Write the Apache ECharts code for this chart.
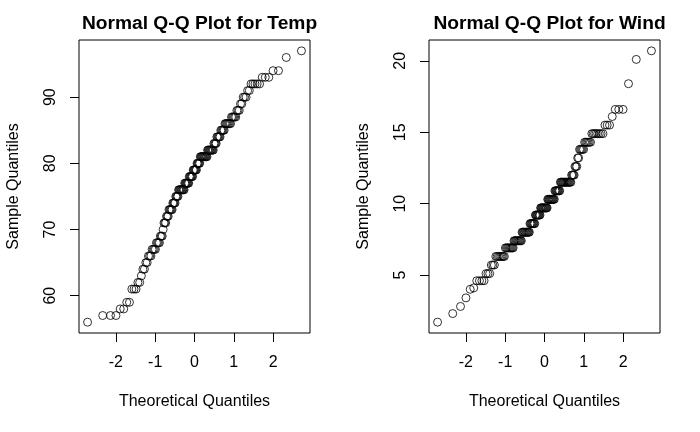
<!DOCTYPE html>
<html>
<head>
<meta charset="utf-8">
<script src="https://cdn.jsdelivr.net/npm/echarts@6/dist/echarts.min.js"></script>
<style>
html,body{margin:0;padding:0;background:#fff;}
#chart{width:700px;height:432px;}
</style>
</head>
<body>
<div id="chart"></div>
<script>
// airquality$Temp (153 observations)
var temp = [67,72,74,62,56,66,65,59,61,69,74,69,66,68,58,64,66,57,68,62,59,73,61,61,57,58,57,67,81,79,76,
  78,74,67,84,85,79,82,87,90,87,93,92,82,80,79,77,72,65,73,76,77,76,76,76,75,78,73,80,77,83,
  84,85,81,84,83,83,88,92,92,89,82,73,81,91,80,81,82,84,87,85,74,81,82,86,85,82,86,88,86,83,81,
  81,81,82,86,85,87,89,90,90,92,86,86,82,80,79,77,79,76,78,78,77,72,75,79,81,86,88,97,94,96,94,
  91,92,93,93,87,84,80,78,75,73,81,76,77,71,71,78,67,76,68,82,64,71,81,69,63,70,77,75,76,68];
// airquality$Wind (153 observations)
var wind = [7.4,8.0,12.6,11.5,14.3,14.9,8.6,13.8,20.1,8.6,6.9,9.7,9.2,10.9,13.2,11.5,12.0,18.4,11.5,9.7,9.7,16.6,9.7,12.0,16.6,14.9,8.0,12.0,14.9,5.7,7.4,
  8.6,9.7,16.1,9.2,8.6,14.3,9.7,6.9,13.8,11.5,10.9,9.2,8.0,13.8,11.5,14.9,20.7,9.2,11.5,10.3,6.3,1.7,4.6,6.3,8.0,8.0,10.3,11.5,14.9,8.0,
  4.1,9.2,9.2,10.9,4.6,10.9,5.1,6.3,5.7,7.4,8.6,14.3,14.9,14.9,14.3,6.9,10.3,6.3,5.1,11.5,6.9,9.7,11.5,8.6,8.0,8.6,12.0,7.4,7.4,7.4,9.2,
  6.9,13.8,7.4,6.9,7.4,4.6,4.0,10.3,8.0,8.6,11.5,11.5,11.5,9.7,11.5,10.3,6.3,7.4,10.9,10.3,15.5,14.3,12.6,9.7,3.4,8.0,5.7,9.7,2.3,6.3,6.3,
  6.9,5.1,2.8,4.6,7.4,15.5,10.9,10.3,10.9,9.7,14.9,15.5,6.3,10.9,11.5,6.9,13.8,10.3,10.3,8.0,12.6,9.2,10.3,10.3,16.6,6.9,13.2,14.3,8.0,11.5];
var xTicks = [-2,-1,0,1,2];
var tempTicks = [60,70,80,90];
var windTicks = [5,10,15,20];
var titles = ['Normal Q-Q Plot for Temp','Normal Q-Q Plot for Wind'];

// inverse standard normal CDF (Acklam)
function qnorm(p){
  var a=[-3.969683028665376e+01,2.209460984245205e+02,-2.759285104469687e+02,1.383577518672690e+02,-3.066479806614716e+01,2.506628277459239e+00];
  var b=[-5.447609879822406e+01,1.615858368580409e+02,-1.556989798598866e+02,6.680131188771972e+01,-1.328068155288572e+01];
  var c=[-7.784894002430293e-03,-3.223964580411365e-01,-2.400758277161838e+00,-2.549732539343734e+00,4.374664141464968e+00,2.938163982698783e+00];
  var d=[7.784695709041462e-03,3.224671290700398e-01,2.445134137142996e+00,3.754408661907416e+00];
  var pl=0.02425,q,r;
  if(p<pl){q=Math.sqrt(-2*Math.log(p));return (((((c[0]*q+c[1])*q+c[2])*q+c[3])*q+c[4])*q+c[5])/((((d[0]*q+d[1])*q+d[2])*q+d[3])*q+1);}
  if(p>1-pl){q=Math.sqrt(-2*Math.log(1-p));return -(((((c[0]*q+c[1])*q+c[2])*q+c[3])*q+c[4])*q+c[5])/((((d[0]*q+d[1])*q+d[2])*q+d[3])*q+1);}
  q=p-0.5;r=q*q;
  return (((((a[0]*r+a[1])*r+a[2])*r+a[3])*r+a[4])*r+a[5])*q/(((((b[0]*r+b[1])*r+b[2])*r+b[3])*r+b[4])*r+1);
}
// Q-Q pairs: sorted sample vs normal quantiles of ppoints(n)
function qq(v){
  var s=v.slice().sort(function(x,y){return x-y;});
  var n=s.length;
  return s.map(function(y,i){return [qnorm((i+1-0.5)/n), y];});
}
function lim(arr){
  var mn=Math.min.apply(null,arr), mx=Math.max.apply(null,arr), e=(mx-mn)*0.04;
  return [mn-e, mx+e];
}
var qqT = qq(temp), qqW = qq(wind);
var xl = lim(qqT.map(function(p){return p[0];}));
var yT = lim(temp), yW = lim(wind);

var FONT = 'Liberation Sans, Arial, sans-serif';
function xAxis(gi){
  return {gridIndex:gi,type:'value',min:xl[0],max:xl[1],position:'bottom',
    name:'Theoretical Quantiles',nameLocation:'middle',nameGap:61,
    nameTextStyle:{fontFamily:FONT,fontSize:16,color:'#000'},
    axisLine:{show:false,onZero:false},splitLine:{show:false},
    axisTick:{show:true,length:9,customValues:xTicks,lineStyle:{color:'#000',width:1}},
    axisLabel:{customValues:xTicks,margin:22,fontFamily:FONT,fontSize:16,color:'#000',formatter:function(v){return String(v);}}};
}
function yAxis(gi,l,ticks){
  return {gridIndex:gi,type:'value',min:l[0],max:l[1],position:'left',
    name:'Sample Quantiles',nameLocation:'middle',nameGap:57,
    nameTextStyle:{fontFamily:FONT,fontSize:16,color:'#000'},
    axisLine:{show:false,onZero:false},splitLine:{show:false},
    axisTick:{show:true,length:9,customValues:ticks,lineStyle:{color:'#000',width:1}},
    axisLabel:{customValues:ticks,rotate:90,margin:20,fontFamily:FONT,fontSize:16,color:'#000',formatter:function(v){return String(v);}}};
}
function series(gi,data){
  return {type:'scatter',xAxisIndex:gi,yAxisIndex:gi,data:data,symbol:'circle',symbolSize:8,
    itemStyle:{color:'rgba(0,0,0,0)',borderColor:'#000',borderWidth:1},
    emphasis:{disabled:true},silent:true};
}
var chart = echarts.init(document.getElementById('chart'),null,{renderer:'canvas'});
chart.setOption({
  animation:false,
  backgroundColor:'#fff',
  title:[
    {text:titles[0],left:194.5,top:9,textAlign:'center',textStyle:{fontFamily:FONT,fontSize:19.2,fontWeight:'bold',color:'#000'}},
    {text:titles[1],left:544.5,top:9,textAlign:'center',textStyle:{fontFamily:FONT,fontSize:19.2,fontWeight:'bold',color:'#000'}}
  ],
  grid:[
    {left:79,top:40,width:231,height:293,show:true,borderColor:'#000',borderWidth:1,backgroundColor:'transparent'},
    {left:429,top:40,width:231,height:293,show:true,borderColor:'#000',borderWidth:1,backgroundColor:'transparent'}
  ],
  xAxis:[xAxis(0),xAxis(1)],
  yAxis:[yAxis(0,yT,tempTicks),yAxis(1,yW,windTicks)],
  series:[series(0,qqT),series(1,qqW)]
});
</script>
</body>
</html>
